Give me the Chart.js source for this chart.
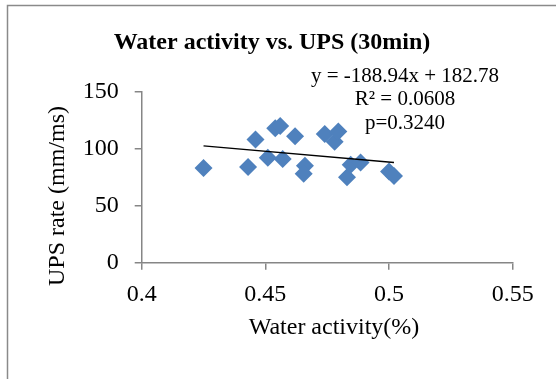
<!DOCTYPE html>
<html>
<head>
<meta charset="utf-8">
<script src="https://cdn.jsdelivr.net/npm/chart.js@4"></script>
<style>
  html, body { margin: 0; padding: 0; background: #fff; }
  #wrap { width: 556px; height: 379px; position: relative; }
</style>
</head>
<body>
<div id="wrap"><canvas id="chart" width="556" height="379"></canvas></div>
<script>
// data
const waterActivity = [0.425, 0.443, 0.446, 0.451, 0.454, 0.456, 0.457, 0.462, 0.466, 0.4655,
                       0.474, 0.478, 0.4795, 0.483, 0.4845, 0.4885, 0.500, 0.502];
const upsRate = [83, 84, 108, 92, 118, 120, 91, 111, 85, 78,
                 113, 106, 115, 75, 86, 88, 80, 76];

// trendline (from the excel label)
const slope = [-188.94];
const intercept = [182.78];
const trendText = ["y = -188.94x + 182.78", "R\u00B2 = 0.0608", "p=0.3240"];

const xTicks = [0.4, 0.45, 0.5, 0.55];
const yTicks = [0, 50, 100, 150];

const chartTitle = "Water activity vs. UPS (30min)";
const xTitle = "Water activity(%)";
const yTitle = "UPS rate (mm/ms)";

const serif = "'Liberation Serif', 'Times New Roman', serif";
const axisGray = "#868686";

let points = waterActivity.map((x, i) => ({ x: x, y: upsRate[i] }));
let xMin = Math.min(...waterActivity);
let xMax = Math.max(...waterActivity);
let trend = [xMin, xMax].map(x => ({ x: x, y: slope[0] * x + intercept[0] }));

// frame, titles and the trend label
const extras = {
    id: "extras",
    beforeDraw(chart) {
        const ctx = chart.ctx;
        ctx.save();
        ctx.fillStyle = "#fff";
        ctx.fillRect(0, 0, chart.width, chart.height);
        ctx.strokeStyle = "#8a8a8a";
        ctx.lineWidth = 1.5;
        ctx.strokeRect(7.5, 5.5, 700, 500);
        ctx.restore();
    },
    afterDraw(chart) {
        const ctx = chart.ctx;
        ctx.save();
        ctx.fillStyle = "#000";
        ctx.textAlign = "center";
        ctx.textBaseline = "middle";

        ctx.font = "bold 24px " + serif;
        ctx.fillText(chartTitle, 272, 43);

        ctx.font = "21px " + serif;
        trendText.forEach((t, i) => ctx.fillText(t, 405, 76 + i * 23.5));

        ctx.font = "24px " + serif;
        ctx.fillText(xTitle, 334, 328);

        ctx.translate(58, 196);
        ctx.rotate(-Math.PI / 2);
        ctx.fillText(yTitle, 0, 0);
        ctx.restore();
    }
};

const ctx = document.getElementById("chart").getContext("2d");

new Chart(ctx, {
    data: {
        datasets: [
            {
                type: "line",
                data: trend,
                borderColor: "#000",
                borderWidth: 1.5,
                pointRadius: 0,
                fill: false,
                order: 0
            },
            {
                type: "scatter",
                data: points,
                pointStyle: "rectRot",
                pointRadius: 9,
                pointHoverRadius: 9,
                backgroundColor: "#4F81BD",
                borderColor: "#4F81BD",
                borderWidth: 0,
                order: 1
            }
        ]
    },
    options: {
        responsive: false,
        animation: false,
        layout: { padding: { left: 0, right: 43.3, top: 91.7, bottom: 0 } },
        plugins: {
            legend: { display: false },
            title: { display: false },
            tooltip: { enabled: false }
        },
        scales: {
            x: {
                type: "linear",
                min: xTicks[0],
                max: xTicks[xTicks.length - 1],
                afterBuildTicks: s => { s.ticks = xTicks.map(v => ({ value: v })); },
                afterFit: s => { s.height = 116.3; },
                grid: { drawOnChartArea: false, drawTicks: true, tickLength: 7, color: axisGray, lineWidth: 1.5 },
                border: { color: axisGray, width: 1.5 },
                ticks: {
                    padding: 11,
                    color: "#000",
                    font: { family: serif, size: 24 },
                    callback: v => String(Number(v.toFixed(2)))
                }
            },
            y: {
                type: "linear",
                min: yTicks[0],
                max: yTicks[yTicks.length - 1],
                afterBuildTicks: s => { s.ticks = yTicks.map(v => ({ value: v })); },
                afterFit: s => { s.width = 141.7; },
                grid: { drawOnChartArea: false, drawTicks: true, tickLength: 7, color: axisGray, lineWidth: 1.5 },
                border: { color: axisGray, width: 1.5 },
                ticks: {
                    padding: 16,
                    color: "#000",
                    font: { family: serif, size: 24 }
                }
            }
        }
    },
    plugins: [extras]
});
</script>
</body>
</html>
